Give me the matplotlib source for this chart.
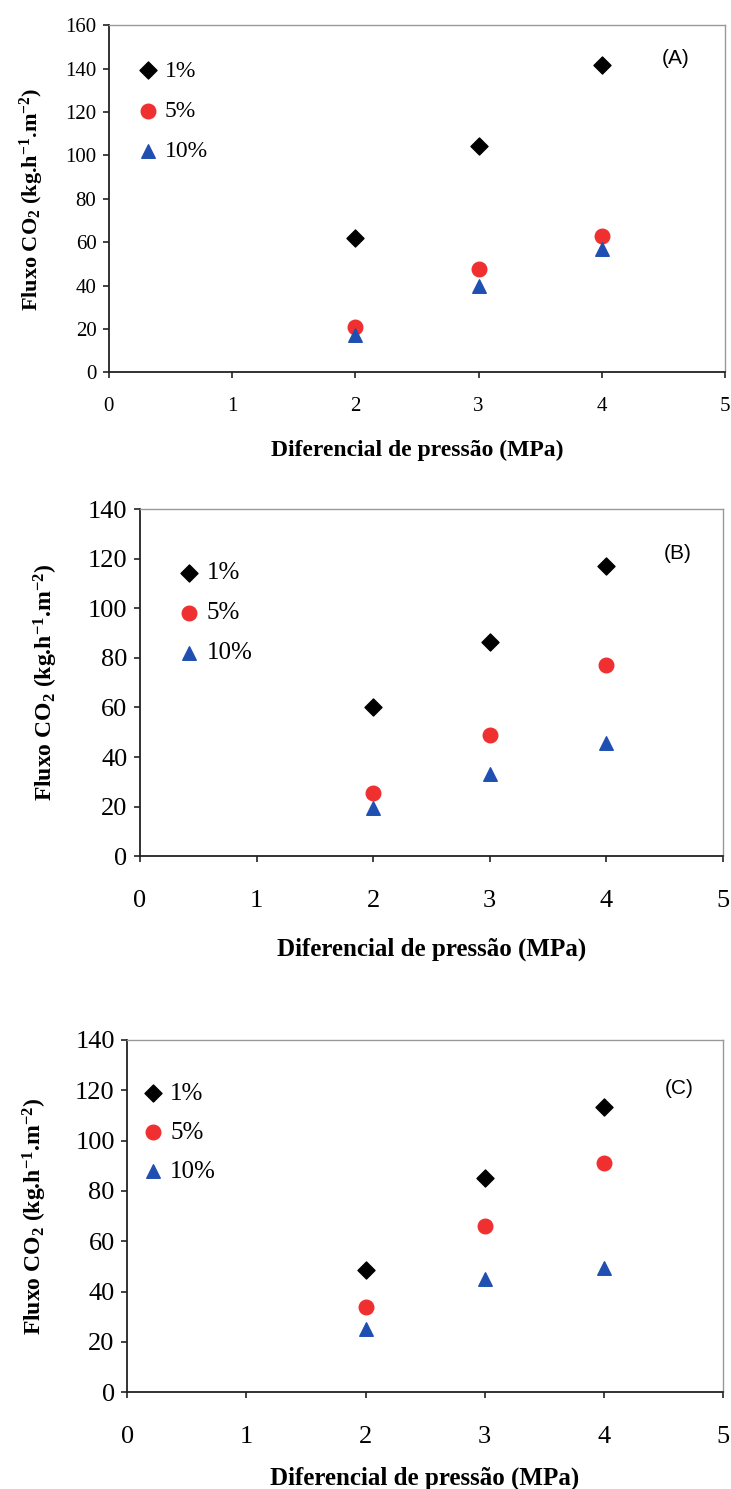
import matplotlib
matplotlib.use("Agg")
import matplotlib.pyplot as plt

plt.rcParams["mathtext.fontset"] = "custom"
plt.rcParams["mathtext.rm"] = "Liberation Serif"
plt.rcParams["mathtext.bf"] = "Liberation Serif:bold"
plt.rcParams["mathtext.it"] = "Liberation Serif:italic"

pressure = [2, 3, 4]
series_labels = ["1%", "5%", "10%"]

# Panel A
a_1 = [62, 104.5, 141.5]
a_5 = [21, 47.5, 63]
a_10 = [17, 40, 57]
# Panel B
b_1 = [60, 86.5, 117]
b_5 = [25.5, 49, 77]
b_10 = [19.5, 33, 45.5]
# Panel C
c_1 = [48.5, 85, 113.5]
c_5 = [34, 66, 91]
c_10 = [25, 45, 49.5]

panel_names = ["(A)", "(B)", "(C)"]
ymax = [160, 140, 140]

serif = ["Liberation Serif", "DejaVu Serif"]
sans = ["Liberation Sans", "DejaVu Sans"]

fig = plt.figure(figsize=(7.31, 14.89), dpi=100)

# axes boxes in figure fractions [left, bottom, width, height]
boxes = [
    [0.149, 0.750, 0.843, 0.233],
    [0.1915, 0.425, 0.797, 0.233],
    [0.174, 0.065, 0.815, 0.2366],
]
tick_sizes = [15, 19, 19]
xpads = [14, 20, 20]
xlabel_sizes = [17, 18, 18]
xlabelpads = [17, 19, 14]
ylabel_sizes = [16, 17, 17]
ylabelpads = [14, 20, 19]
legend_sizes = [17, 18, 18]
legend_spacing = [0.79, 0.7, 0.66]
legend_anchor = [(0.045, 0.90), (0.063, 0.848), (0.022, 0.879)]
panel_pos = [(0.92, 0.905), (0.923, 0.873), (0.927, 0.861)]

data = [(a_1, a_5, a_10), (b_1, b_5, b_10), (c_1, c_5, c_10)]

for i, (s1, s5, s10) in enumerate(data):
    ax = fig.add_axes(boxes[i])
    ax.scatter(pressure, s1, marker="D", s=75, color="black", label=series_labels[0], zorder=3)
    ax.scatter(pressure, s5, marker="o", s=110, color="#f03030", label=series_labels[1], zorder=3)
    ax.scatter(pressure, s10, marker="^", s=95, color="#1f4fb0", label=series_labels[2], zorder=3)
    ax.set_xlim(0, 5)
    ax.set_ylim(0, ymax[i])
    ax.set_xticks(range(0, 6))
    ax.set_yticks(range(0, ymax[i] + 1, 20))
    for sp in ["top", "right"]:
        ax.spines[sp].set_color("#999999")
        ax.spines[sp].set_linewidth(1.0)
    for sp in ["left", "bottom"]:
        ax.spines[sp].set_color("#222222")
        ax.spines[sp].set_linewidth(1.3)
    ax.tick_params(axis="both", direction="out", length=4, width=1.2, color="#222222",
                   labelsize=tick_sizes[i])
    ax.tick_params(axis="x", pad=xpads[i])
    ax.tick_params(axis="y", pad=5)
    for lab in ax.get_xticklabels() + ax.get_yticklabels():
        lab.set_family(serif)
    ax.set_xlabel("Diferencial de pressão (MPa)", family=serif, fontweight="bold",
                  fontsize=xlabel_sizes[i], labelpad=xlabelpads[i])
    ax.set_ylabel(r"Fluxo CO$_\mathbf{2}$ (kg.h$^\mathbf{-1}$.m$^\mathbf{-2}$)", family=serif,
                  fontweight="bold", fontsize=ylabel_sizes[i], labelpad=ylabelpads[i])
    ax.text(panel_pos[i][0], panel_pos[i][1], panel_names[i], transform=ax.transAxes, family=sans,
            fontsize=15, ha="center", va="center")
    ax.legend(loc="upper left", bbox_to_anchor=legend_anchor[i], frameon=False,
              prop={"family": serif, "size": legend_sizes[i]},
              handletextpad=0.2, labelspacing=legend_spacing[i], handlelength=1.0, borderpad=0,
              borderaxespad=0)

fig.savefig("out.png", dpi=100)
